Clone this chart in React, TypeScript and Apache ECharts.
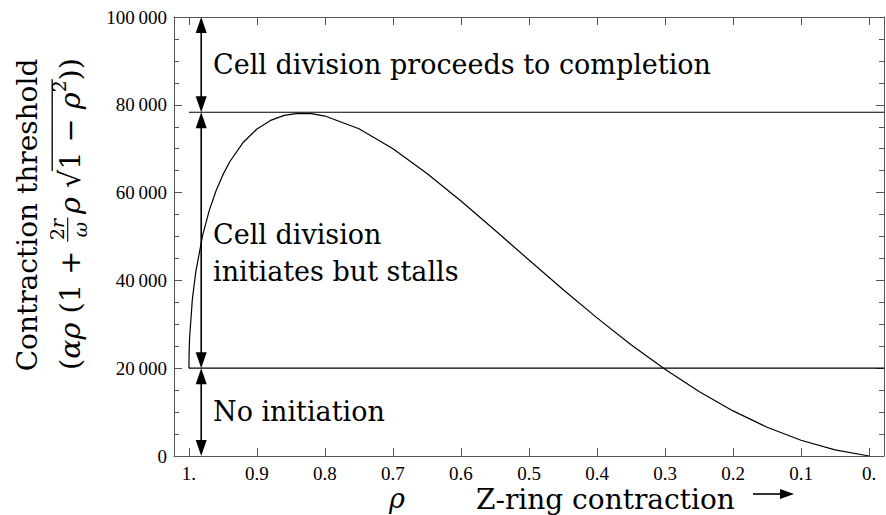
import React, { useEffect, useRef } from 'react';
import * as echarts from 'echarts';

// ρ values (x) and contraction threshold (y)
const rho = [1, 0.99999, 0.9999, 0.9995, 0.999, 0.995, 0.99, 0.98, 0.97, 0.96, 0.95, 0.94, 0.92, 0.9, 0.88, 0.86, 0.84, 0.82, 0.8, 0.75, 0.7, 0.65, 0.6, 0.55, 0.5, 0.45, 0.4, 0.35, 0.3, 0.25, 0.2, 0.15, 0.1, 0.05, 0];
const threshold = [20000, 20720, 22260, 25040, 27120, 35720, 41920, 50180, 56000, 60490, 64090, 67030, 71480, 74490, 76450, 77590, 78060, 77980, 77440, 74530, 69990, 64370, 58080, 51420, 44640, 37930, 31460, 25360, 19740, 14680, 10270, 6560, 3590, 1400, 0];

// horizontal threshold levels
const levels = [20000, 78300];
const levelStart = 1;
const levelEnd = -0.022;

// double-headed arrows: [x, yFrom, yTo]
const arrowX = 0.982;
const arrowSpans = [[100000, 78300], [78300, 20000], [20000, 0]];

const xTicks = [1, 0.9, 0.8, 0.7, 0.6, 0.5, 0.4, 0.3, 0.2, 0.1, 0];
const xMin = -0.022;
const xMax = 1.022;

const annotations = [
  { text: 'Cell division proceeds to completion', x: 213, y: 64 },
  { text: 'Cell division', x: 213, y: 234 },
  { text: 'initiates but stalls', x: 213, y: 271 },
  { text: 'No initiation', x: 213, y: 411 },
];

const SERIF = 'DejaVu Serif';
const TICKFONT = 'Liberation Serif';

function measure(t: string, italic: boolean, size: number) {
  const c = document.createElement('canvas').getContext('2d')!;
  c.font = `${italic ? 'italic ' : ''}${size}px "DejaVu Serif"`;
  return c.measureText(t).width;
}

function buildFormula() {
  const F = 26;
  const S = 17;
  const children: any[] = [];
  let cx = 0;
  const add = (t: string, italic = false, size = F, dy = 0) => {
    const w = measure(t, italic, size);
    children.push({
      type: 'text', x: cx, y: dy,
      style: { text: t, fill: '#000', fontFamily: SERIF, fontSize: size, fontStyle: italic ? 'italic' : 'normal', align: 'left', verticalAlign: 'middle' },
    });
    cx += w;
    return w;
  };
  add('(');
  add('αρ', true);
  add(' (1 + ');
  const w2 = measure('2', false, S);
  const wr = measure('r', true, S);
  const wo = measure('ω', true, S);
  const fw = Math.max(w2 + wr, wo) + 3;
  const fx = cx;
  children.push({ type: 'text', x: fx + (fw - w2 - wr) / 2, y: -0.42 * F, style: { text: '2', fill: '#000', fontFamily: SERIF, fontSize: S, align: 'left', verticalAlign: 'middle' } });
  children.push({ type: 'text', x: fx + (fw - w2 - wr) / 2 + w2, y: -0.42 * F, style: { text: 'r', fill: '#000', fontFamily: SERIF, fontSize: S, fontStyle: 'italic', align: 'left', verticalAlign: 'middle' } });
  children.push({ type: 'text', x: fx + (fw - wo) / 2, y: 0.36 * F, style: { text: 'ω', fill: '#000', fontFamily: SERIF, fontSize: S, fontStyle: 'italic', align: 'left', verticalAlign: 'middle' } });
  children.push({ type: 'line', shape: { x1: fx, y1: -0.08 * F, x2: fx + fw, y2: -0.08 * F }, style: { stroke: '#000', lineWidth: 1 } });
  cx += fw + 3;
  add('ρ', true);
  add(' √');
  const ox = cx - 1;
  add('1 − ');
  add('ρ', true);
  add('2', false, S, -0.38 * F);
  children.push({ type: 'line', shape: { x1: ox, y1: -0.62 * F, x2: cx + 1, y2: -0.62 * F }, style: { stroke: '#000', lineWidth: 1.2 } });
  add('))');
  return { children, width: cx };
}

export default function App() {
  const ref = useRef<HTMLDivElement>(null);
  useEffect(() => {
    const chart = echarts.init(ref.current!, null, { renderer: 'svg' });
    const curve = rho.map((r, i) => [r, threshold[i]]);
    const formula = buildFormula();
    const target = 312;
    const sc = target / formula.width;

    const axisLineStyle = { color: '#555', width: 1 };
    const tickStyle = { color: '#555', width: 1 };

    chart.setOption({
      animation: false,
      backgroundColor: '#fff',
      grid: { left: 174, top: 17, right: 2, bottom: 59, containLabel: false },
      xAxis: [
        {
          type: 'value', inverse: true, min: xMin, max: xMax, position: 'bottom',
          axisLine: { show: true, onZero: false, lineStyle: axisLineStyle },
          axisTick: { show: true, inside: true, length: 8, lineStyle: tickStyle, customValues: xTicks },
          axisLabel: {
            show: true, customValues: xTicks, margin: 8, color: '#000', fontFamily: TICKFONT, fontSize: 19,
            formatter: (v: number) => (v === 1 ? '1.' : v === 0 ? '0.' : v.toFixed(1)),
          },
          splitLine: { show: false },
        },
        {
          type: 'value', inverse: true, min: xMin, max: xMax, position: 'top',
          axisLine: { show: true, onZero: false, lineStyle: axisLineStyle },
          axisTick: { show: true, inside: true, length: 8, lineStyle: tickStyle, customValues: xTicks },
          axisLabel: { show: false },
          splitLine: { show: false },
        },
      ],
      yAxis: [
        {
          type: 'value', min: 0, max: 100000, interval: 20000, position: 'left',
          axisLine: { show: true, onZero: false, lineStyle: axisLineStyle },
          axisTick: { show: true, inside: true, length: 8, lineStyle: tickStyle },
          minorTick: { show: true, splitNumber: 4, length: 5, lineStyle: tickStyle },
          axisLabel: {
            margin: 7, color: '#000', fontFamily: TICKFONT, fontSize: 19,
            formatter: (v: number) => (v === 0 ? '0' : `${Math.floor(v / 1000)}\u2009${String(v % 1000).padStart(3, '0')}`),
          },
          splitLine: { show: false },
        },
        {
          type: 'value', min: 0, max: 100000, interval: 20000, position: 'right',
          axisLine: { show: true, onZero: false, lineStyle: axisLineStyle },
          axisTick: { show: true, inside: true, length: 8, lineStyle: tickStyle },
          minorTick: { show: true, splitNumber: 4, length: 5, lineStyle: tickStyle },
          axisLabel: { show: false },
          splitLine: { show: false },
        },
      ],
      series: [
        {
          type: 'line', data: curve, showSymbol: false, symbol: 'none', smooth: false,
          lineStyle: { color: '#000', width: 1.2 }, silent: true,
        },
        ...levels.map((lv) => ({
          type: 'line', data: [[levelStart, lv], [levelEnd, lv]], showSymbol: false, symbol: 'none',
          lineStyle: { color: '#000', width: 1.2 }, silent: true,
        })),
        {
          type: 'custom',
          data: arrowSpans.map((s) => [arrowX, s[0], s[1]]),
          encode: { x: 0, y: [1, 2] },
          clip: false,
          silent: true,
          renderItem: (params: any, api: any) => {
            const p1 = api.coord([api.value(0), api.value(1)]);
            const p2 = api.coord([api.value(0), api.value(2)]);
            const px = p1[0];
            const top = Math.min(p1[1], p2[1]);
            const bot = Math.max(p1[1], p2[1]);
            const hw = 5.5;
            const hl = 16;
            return {
              type: 'group',
              children: [
                { type: 'line', shape: { x1: px, y1: top + hl - 2, x2: px, y2: bot - hl + 2 }, style: { stroke: '#000', lineWidth: 1.6 } },
                { type: 'polygon', shape: { points: [[px, top], [px - hw, top + hl], [px + hw, top + hl]] }, style: { fill: '#000' } },
                { type: 'polygon', shape: { points: [[px, bot], [px - hw, bot - hl], [px + hw, bot - hl]] }, style: { fill: '#000' } },
              ],
            };
          },
        },
      ],
      graphic: [
        ...annotations.map((a) => ({
          type: 'text', x: a.x, y: a.y,
          style: { text: a.text, fill: '#000', fontFamily: SERIF, fontSize: 27, align: 'left', verticalAlign: 'middle' },
        })),
        {
          type: 'text', x: 27, y: 215, rotation: Math.PI / 2,
          style: { text: 'Contraction threshold', fill: '#000', fontFamily: SERIF, fontSize: 28, align: 'center', verticalAlign: 'middle' },
        },
        {
          type: 'group', x: 70, y: 370, rotation: Math.PI / 2, scaleX: sc, scaleY: sc,
          children: formula.children,
        },
        {
          type: 'text', x: 397, y: 498,
          style: { text: 'ρ', fill: '#000', fontFamily: SERIF, fontSize: 27, fontStyle: 'italic', align: 'center', verticalAlign: 'middle' },
        },
        {
          type: 'text', x: 476, y: 499,
          style: { text: 'Z-ring contraction', fill: '#000', fontFamily: SERIF, fontSize: 28, align: 'left', verticalAlign: 'middle' },
        },
        { type: 'line', shape: { x1: 753, y1: 494, x2: 782, y2: 494 }, style: { stroke: '#000', lineWidth: 1.6 } },
        { type: 'polygon', shape: { points: [[794, 494], [780, 489], [780, 499]] }, style: { fill: '#000' } },
      ],
    });
    return () => chart.dispose();
  }, []);
  return <div ref={ref} style={{ position: 'absolute', left: 0, top: 0, width: 886, height: 515 }} />;
}
